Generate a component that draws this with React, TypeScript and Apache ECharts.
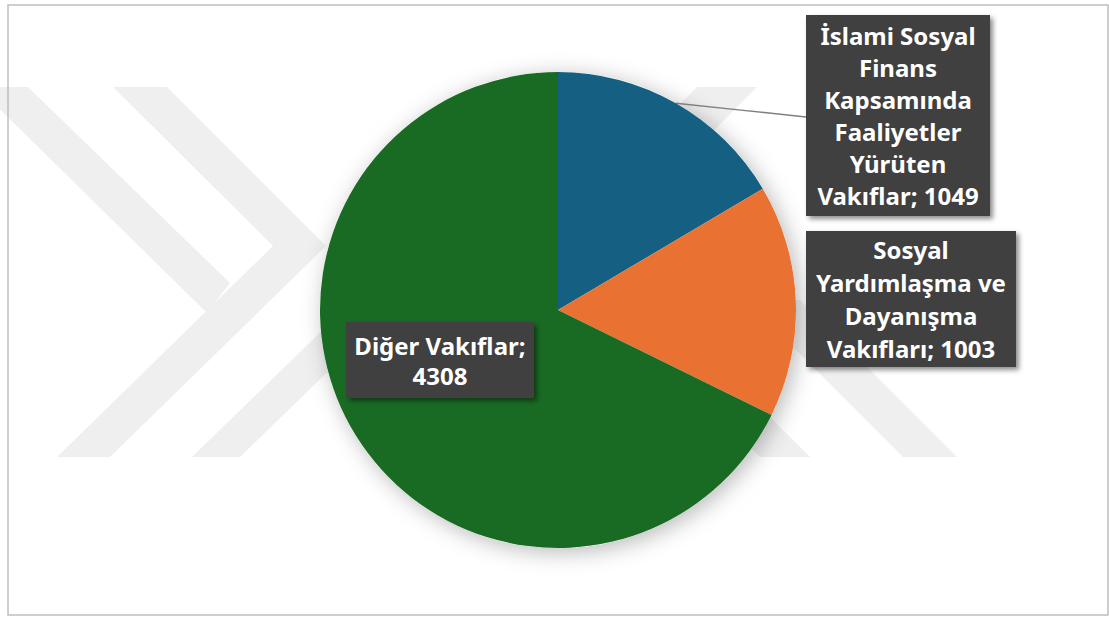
import React, { useEffect, useRef } from "react";
import * as echarts from "echarts";

const categories = [
  "İslami Sosyal Finans Kapsamında Faaliyetler Yürüten Vakıflar",
  "Sosyal Yardımlaşma ve Dayanışma Vakıfları",
  "Diğer Vakıflar",
];
const values = [1049, 1003, 4308];
const colors = ["#156082", "#E97132", "#196B24"];
// label rows as wrapped in the picture; "#" is replaced by the value
const labelRows = [
  ["İslami Sosyal", "Finans", "Kapsamında", "Faaliyetler", "Yürüten", "Vakıflar; #"],
  ["Sosyal", "Yardımlaşma ve", "Dayanışma", "Vakıfları; #"],
  ["Diğer Vakıflar;", "#"],
];

const labelBoxes = [
  { cx: 898, cy: 115.5, w: 174, lh: 32, pad: [5, 5, 4, 5] },
  { cx: 911, cy: 299, w: 200, lh: 33, pad: [2, 5, 2, 5] },
  { cx: 440, cy: 360, w: 178, lh: 30, pad: [8, 5, 8, 5] },
];

const wm = "#efefef";
const watermark = [
  [[-23, 87], [28, 87], [230, 283], [207, 313]],
  [[113, 87], [167, 87], [326, 246], [110, 457], [57, 457], [273, 246]],
  [[192, 457], [240, 457], [420, 282], [372, 282]],
  [[697, 87], [757, 87], [600, 245], [540, 245]],
  [[760, 457], [810, 457], [650, 297], [600, 297]],
  [[903, 457], [957, 457], [800, 300], [746, 300]],
];

export default function App() {
  const ref = useRef<HTMLDivElement>(null);
  useEffect(() => {
    if (!ref.current) return;
    const chart = echarts.init(ref.current, undefined, { renderer: "svg" });
    const data = categories.map((name, i) => ({
      name,
      value: values[i],
      itemStyle: { color: colors[i] },
      label: {
        width: labelBoxes[i].w,
        lineHeight: labelBoxes[i].lh,
        padding: labelBoxes[i].pad,
      },
      labelLine: { show: i === 0 },
    }));
    chart.setOption({
      animation: false,
      backgroundColor: "#ffffff",
      graphic: [
        ...watermark.map((pts) => ({
          type: "polygon",
          z: -10,
          silent: true,
          shape: { points: pts },
          style: { fill: wm },
        })),
        {
          type: "rect",
          z: -5,
          silent: true,
          shape: { x: 8, y: 5, width: 1100, height: 610 },
          style: { fill: "none", stroke: "#bfbfbf", lineWidth: 1.5 },
        },
      ],
      series: [
        {
          type: "pie",
          silent: true,
          center: [558, 310],
          radius: 238,
          z: 1,
          label: { show: false },
          labelLine: { show: false },
          itemStyle: {
            color: "#ffffff",
            shadowBlur: 22,
            shadowColor: "rgba(0,0,0,0.28)",
            shadowOffsetX: 4,
            shadowOffsetY: 4,
          },
          data: [{ value: 1, name: "" }],
        },
        {
          type: "pie",
          center: [558, 310],
          radius: 238,
          startAngle: 90,
          clockwise: true,
          avoidLabelOverlap: false,
          z: 3,
          itemStyle: { borderWidth: 0 },
          label: {
            show: true,
            position: "outside",
            color: "#ffffff",
            fontFamily: "Noto Sans",
            fontWeight: "bold",
            fontSize: 24,
            align: "center",
            backgroundColor: "#3f3f3f",
            shadowColor: "rgba(0,0,0,0.45)",
            shadowBlur: 5,
            shadowOffsetX: 3,
            shadowOffsetY: 3,
            formatter: (p: any) =>
              labelRows[p.dataIndex]
                .map((r) => r.replace("#", String(values[p.dataIndex])))
                .join("\n"),
          },
          labelLine: {
            show: true,
            lineStyle: { color: "#7f7f7f", width: 1.5 },
          },
          labelLayout: (params: any) => {
            const i = params.dataIndex;
            const b = labelBoxes[i];
            const res: any = {
              x: b.cx,
              y: b.cy,
              align: "center",
              verticalAlign: "middle",
            };
            if (i === 0 && params.labelLinePoints && params.labelLinePoints[0]) {
              const p0 = params.labelLinePoints[0];
              const end = [806, 117];
              res.labelLinePoints = [
                p0,
                [(p0[0] + end[0]) / 2, (p0[1] + end[1]) / 2],
                end,
              ];
            }
            return res;
          },
          data,
        },
      ],
    });
    return () => chart.dispose();
  }, []);
  return (
    <div
      ref={ref}
      style={{ position: "fixed", left: 0, top: 0, width: 1109, height: 617 }}
    />
  );
}
